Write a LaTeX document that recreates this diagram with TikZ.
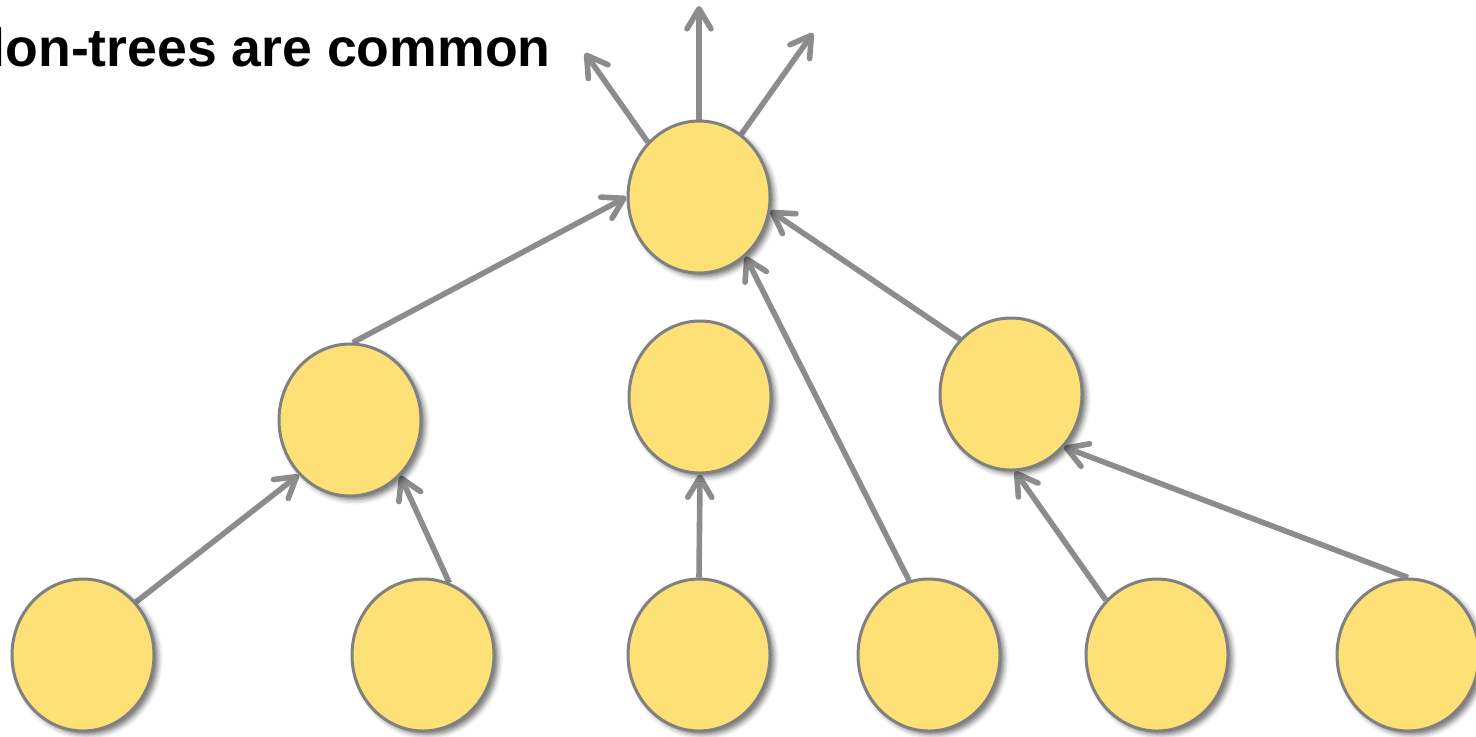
\documentclass[tikz,border=0pt]{standalone}
\usepackage{fontspec}
\setmainfont{Liberation Sans}
\usetikzlibrary{arrows.meta,shapes.geometric,shadows.blur,backgrounds}

\definecolor{yolk}{RGB}{253,224,118}

\begin{document}
\begin{tikzpicture}[
      x=0.5pt,y=-0.5pt,
      vx/.style={ellipse,draw=black!50,line width=1.5pt,fill=yolk,
        minimum width=71pt,minimum height=76pt,inner sep=0pt,
        blur shadow={shadow xshift=2pt,shadow yshift=-1.8pt,
          shadow blur radius=2.5pt,shadow opacity=55}},
      ed/.style={draw=black!45,line width=2.8pt,
        -{Straight Barb[length=10pt,width=12pt,round]}}
    ]
    \useasboundingbox (0,0) rectangle (1476,736);
    % heading
    \node[anchor=base east,inner sep=0pt,
      font=\fontsize{26.8}{30}\selectfont\bfseries] (title)
      at (551,66) {lon-trees are common};
    % top
    \node[vx] (root) at (699,197) {};
    % middle row
    \node[vx] (ml) at (350,420) {}; \node[vx] (mc) at (700,397) {};
    \node[vx] (mr) at (1011,394) {};
    % bottom row
    \foreach \n/\x in {b1/83,b2/423,b3/699,b4/929,b5/1157,b6/1408}{
      \node[vx] (\n) at (\x,655) {};}
    % loose ends above the root
    \coordinate (up1) at (585,53); \coordinate (up2) at (699,6);
    \coordinate (up3) at (813,33);
    % edges (drawn behind)
    \begin{scope}[on background layer]
      \foreach \a/\b in {b1.45/ml.227,b2.70/ml.312,b3.90/mc.270,
        b4.105/root.308,b5.133/mr.273,b6.90/mr.315,
        ml.88/root.180,mr.133/root.349,
        root.133/up1,root.90/up2,root.56/up3}{\draw[ed] (\a) -- (\b);}
    \end{scope}
  \end{tikzpicture}
\end{document}
